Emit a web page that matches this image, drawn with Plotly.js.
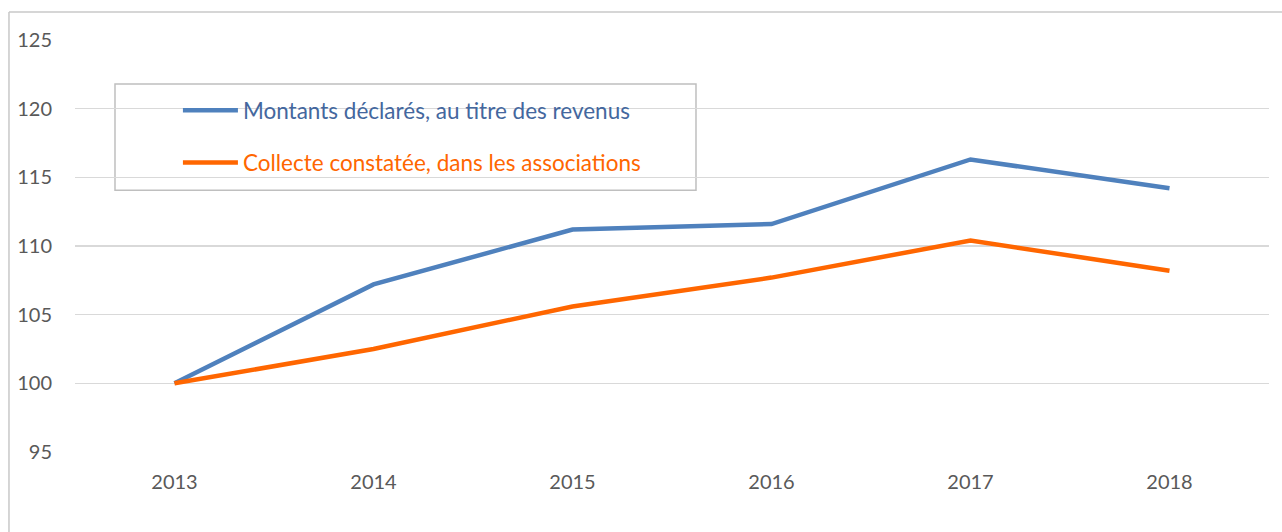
<!DOCTYPE html>
<html><head><meta charset="utf-8">
<script src="https://cdn.plot.ly/plotly-3.0.1.min.js"></script>
<style>html,body{margin:0;padding:0;background:#fff;overflow:hidden}#chart{width:1282px;height:532px}</style>
</head><body><div id="chart"></div>
<script>
const years = ['2013','2014','2015','2016','2017','2018'];
const montantsDeclares = [100, 107.2, 111.2, 111.6, 116.3, 114.2];
const collecteConstatee = [100, 102.5, 105.6, 107.7, 110.4, 108.2];
const seriesNames = ['Montants déclarés, au titre des revenus', 'Collecte constatée, dans les associations'];
const seriesColors = ['#4F81BD', '#FF6600'];
const legendTextColors = ['#44679E', '#FF6600'];
const yTicks = [95, 100, 105, 110, 115, 120, 125];

const font = 'Lato, "Open Sans", sans-serif';

const traces = [montantsDeclares, collecteConstatee].map((vals, i) => ({
  type: 'scatter', mode: 'lines', x: years, y: vals,
  name: '<span style="color:' + legendTextColors[i] + '">' + seriesNames[i] + '</span>',
  legendgroup: 'g' + i,
  line: {color: seriesColors[i], width: 4.5},
  hoverinfo: 'x+y'
}));

const layout = {
  width: 1282, height: 532,
  margin: {l: 75, r: 13, t: 40, b: 80},
  paper_bgcolor: '#fff', plot_bgcolor: '#fff',
  font: {family: font, size: 20, color: '#595959'},
  xaxis: {type: 'category', range: [-0.5, 5.5], showgrid: false, zeroline: false, showline: false,
          ticks: '', ticklabelstandoff: 16, tickfont: {size: 20, color: '#595959'}},
  yaxis: {range: [95, 125], tickvals: yTicks, showgrid: true, gridcolor: '#D9D9D9', gridwidth: 1.5,
          zeroline: false, showline: false, ticks: '', ticklabelstandoff: 22, tickfont: {size: 20, color: '#595959'}},
  showlegend: true,
  legend: {x: 0.0862, y: 0.881, xanchor: 'left', yanchor: 'top', bgcolor: 'rgba(0,0,0,0)', borderwidth: 0,
           itemwidth: 55, tracegroupgap: 20, font: {size: 22.5}},
  shapes: [
    {type: 'line', xref: 'paper', yref: 'paper', x0: -0.0553, x1: 1.0109, y0: 1.068, y1: 1.068,
     line: {color: '#C8C8C8', width: 1.5}, layer: 'below'},
    {type: 'line', xref: 'paper', yref: 'paper', x0: -0.0553, x1: -0.0553, y0: -0.2, y1: 1.068,
     line: {color: '#C8C8C8', width: 1.5}, layer: 'below'},
    {type: 'rect', xref: 'paper', yref: 'paper', x0: 0.0335, x1: 0.5201, y0: 0.6355, y1: 0.893,
     line: {color: '#BFBFBF', width: 1.5}, fillcolor: '#fff', layer: 'between'}
  ]
};

Plotly.newPlot('chart', traces, layout, {displayModeBar: false, staticPlot: true});
</script></body></html>
